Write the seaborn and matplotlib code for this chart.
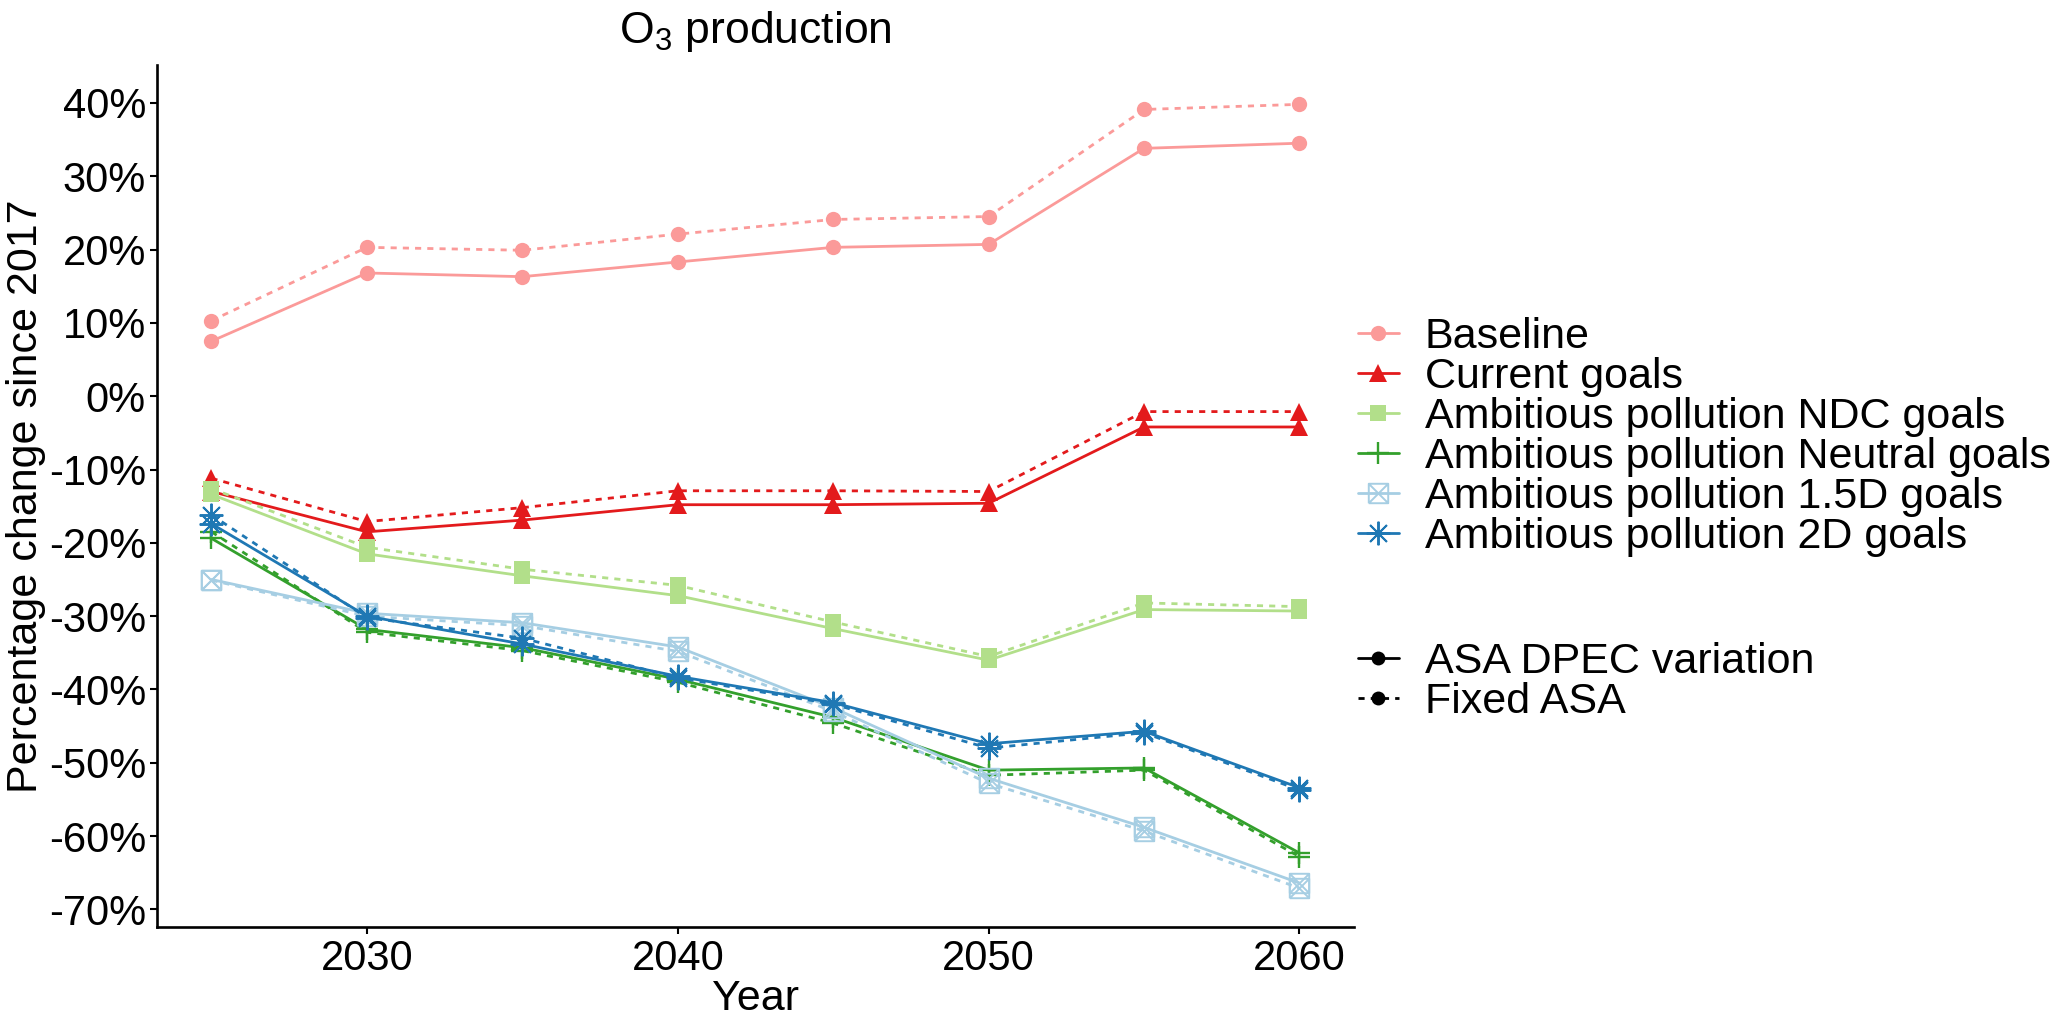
## O3 production scenario plot
import numpy as np
import pandas as pd
import seaborn as sns
import matplotlib.pyplot as plt
from matplotlib.path import Path
from matplotlib.lines import Line2D
from matplotlib.ticker import PercentFormatter

# data (percentage change since 2017)
years = [2025, 2030, 2035, 2040, 2045, 2050, 2055, 2060]
scenarios = ['Baseline', 'Current goals', 'Ambitious pollution NDC goals',
             'Ambitious pollution Neutral goals', 'Ambitious pollution 1.5D goals',
             'Ambitious pollution 2D goals']
variants = ['ASA DPEC variation', 'Fixed ASA']

baseline_var = [7.5, 16.8, 16.3, 18.3, 20.3, 20.7, 33.8, 34.5]
baseline_fix = [10.3, 20.3, 19.9, 22.1, 24.1, 24.5, 39.1, 39.8]
current_var = [-13.0, -18.5, -16.9, -14.8, -14.8, -14.6, -4.2, -4.2]
current_fix = [-11.2, -17.1, -15.2, -12.9, -12.9, -13.0, -2.1, -2.1]
ndc_var = [-13.4, -21.5, -24.5, -27.2, -31.7, -36.0, -29.1, -29.3]
ndc_fix = [-12.6, -20.6, -23.6, -25.8, -30.8, -35.5, -28.2, -28.7]
neutral_var = [-19.4, -31.8, -34.3, -38.6, -43.8, -51.0, -50.7, -62.3]
neutral_fix = [-18.5, -32.2, -34.7, -39.0, -44.6, -51.7, -51.0, -62.8]
d15_var = [-25.0, -29.6, -30.9, -34.2, -42.5, -52.1, -58.8, -66.4]
d15_fix = [-25.1, -30.0, -31.3, -34.8, -43.0, -52.8, -59.3, -67.1]
d2_var = [-17.4, -30.0, -33.8, -38.2, -41.8, -47.4, -45.7, -53.4]
d2_fix = [-16.2, -30.2, -33.0, -38.4, -42.0, -48.0, -45.9, -53.7]

values = {
    'Baseline': (baseline_var, baseline_fix),
    'Current goals': (current_var, current_fix),
    'Ambitious pollution NDC goals': (ndc_var, ndc_fix),
    'Ambitious pollution Neutral goals': (neutral_var, neutral_fix),
    'Ambitious pollution 1.5D goals': (d15_var, d15_fix),
    'Ambitious pollution 2D goals': (d2_var, d2_fix),
}

rows = []
for sc in scenarios:
    for vi, var in enumerate(variants):
        for yr, v in zip(years, values[sc][vi]):
            rows.append({'Year': yr, 'value': v, 'scenario': sc, 'variant': var})
df = pd.DataFrame(rows)

# square with a cross (ggplot shape 7)
sq_cross = Path([(-1, -1), (1, -1), (1, 1), (-1, 1), (-1, -1), (-1, -1), (1, 1), (-1, 1), (1, -1)],
                [Path.MOVETO, Path.LINETO, Path.LINETO, Path.LINETO, Path.LINETO,
                 Path.MOVETO, Path.LINETO, Path.MOVETO, Path.LINETO])

colors = ['#FB9A99', '#E31A1C', '#B2DF8A', '#33A02C', '#A6CEE3', '#1F78B4']
marker_kw = [
    dict(marker='o', markersize=11, markerfacecolor=colors[0], markeredgecolor=colors[0], markeredgewidth=0),
    dict(marker='^', markersize=13, markerfacecolor=colors[1], markeredgecolor=colors[1], markeredgewidth=0),
    dict(marker='s', markersize=11, markerfacecolor=colors[2], markeredgecolor=colors[2], markeredgewidth=0),
    dict(marker='+', markersize=16, markeredgecolor=colors[3], markeredgewidth=1.7),
    dict(marker=sq_cross, markersize=14, markerfacecolor='none', markeredgecolor=colors[4], markeredgewidth=1.4),
    dict(marker=(8, 2, 0), markersize=17, markeredgecolor=colors[5], markeredgewidth=1.4),
]
line_styles = {'ASA DPEC variation': '-', 'Fixed ASA': (0, (2.2, 2.2))}

sns.set_style('ticks')
plt.rcParams['font.family'] = ['Liberation Sans', 'DejaVu Sans']
plt.rcParams['mathtext.fontset'] = 'custom'
plt.rcParams['mathtext.rm'] = 'Liberation Sans'
plt.rcParams['axes.unicode_minus'] = False
plt.rcParams['text.color'] = 'black'
plt.rcParams['axes.labelcolor'] = 'black'

fig = plt.figure(figsize=(20.67, 10.18), dpi=100)
ax = fig.add_axes([0.076, 0.089, 0.579, 0.847])

for i, sc in enumerate(scenarios):
    for var in variants:
        sub = df[(df['scenario'] == sc) & (df['variant'] == var)]
        sns.lineplot(data=sub, x='Year', y='value', ax=ax, color=colors[i],
                     linewidth=2.0, linestyle=line_styles[var], errorbar=None,
                     **marker_kw[i])

ax.set_xticks([2030, 2040, 2050, 2060])
ax.set_yticks(np.arange(-70, 41, 10))
ax.yaxis.set_major_formatter(PercentFormatter(decimals=0))
ax.tick_params(labelsize=30, length=5, width=1.5, colors='black', pad=3)
ax.set_xlabel('Year', fontsize=31, labelpad=0, color='black')
ax.set_ylabel('Percentage change since 2017', fontsize=31, labelpad=2, color='black')
ax.set_title('O$_3$ production', fontsize=32, pad=16, color='black')
for s in ['left', 'bottom']:
    ax.spines[s].set_linewidth(1.9)
    ax.spines[s].set_color('black')
sns.despine(ax=ax)

# legends
sc_handles = [Line2D([], [], color=colors[i], linewidth=2.0, **marker_kw[i]) for i in range(len(scenarios))]
leg1 = fig.legend(sc_handles, scenarios, loc='center left', bbox_to_anchor=(0.657, 0.571),
                  frameon=False, fontsize=31, handlelength=0.95, handletextpad=0.6,
                  labelspacing=0.0, borderpad=0, borderaxespad=0)
var_handles = [Line2D([], [], color='black', linewidth=2.0, linestyle=line_styles[v],
                      marker='o', markersize=10, markeredgewidth=0) for v in variants]
leg2 = fig.legend(var_handles, variants, loc='center left', bbox_to_anchor=(0.657, 0.33),
                  frameon=False, fontsize=31, handlelength=0.95, handletextpad=0.6,
                  labelspacing=0.0, borderpad=0, borderaxespad=0)

fig.savefig('out.png', dpi=100)
